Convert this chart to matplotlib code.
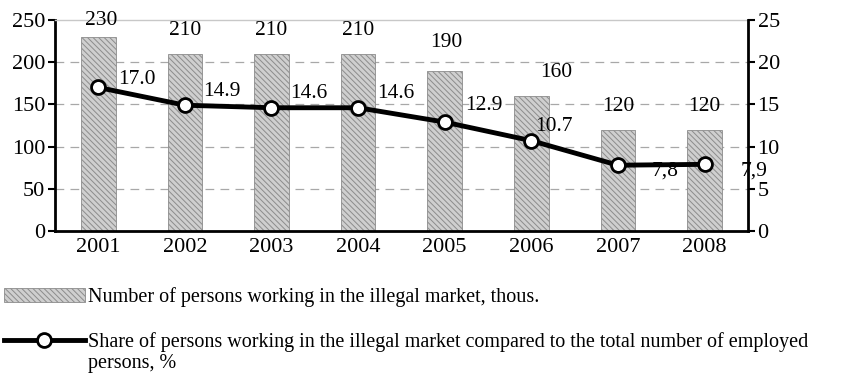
import matplotlib
matplotlib.use("Agg")
import matplotlib.pyplot as plt
from matplotlib.lines import Line2D
from matplotlib.patches import Patch
import numpy as np

years = ["2001", "2002", "2003", "2004", "2005", "2006", "2007", "2008"]
persons_thous = [230, 210, 210, 210, 190, 160, 120, 120]
share_pct = [17.0, 14.9, 14.6, 14.6, 12.9, 10.7, 7.8, 7.9]
share_labels = ["17.0", "14.9", "14.6", "14.6", "12.9", "10.7", "7,8", "7,9"]

plt.rcParams["font.family"] = ["Liberation Serif", "DejaVu Serif"]
plt.rcParams["hatch.color"] = "#5e5e5e"
plt.rcParams["hatch.linewidth"] = 0.7

BAR_FACE = "#cfcfcf"
BAR_EDGE = "#8c8c8c"
HATCH = "\\\\\\\\\\\\"

fig = plt.figure(figsize=(8.45, 3.82), dpi=100)
ax = fig.add_axes([0.065, 0.395, 0.82, 0.553])
ax2 = ax.twinx()

x = np.arange(len(years))
ax.bar(x, persons_thous, width=0.4, color=BAR_FACE, edgecolor=BAR_EDGE,
       linewidth=0.6, hatch=HATCH, zorder=2)
# value labels above bars, offsets in points (dx, dy above bar top)
bar_offsets = [(2, 12), (0, 17), (0, 17), (0, 17), (1, 20), (18, 17), (0, 17), (0, 17)]
for xi, v, (dx, dy) in zip(x, persons_thous, bar_offsets):
    ax.annotate(str(v), (xi, v), xytext=(dx, dy), textcoords="offset points",
                ha="center", va="center", fontsize=15.5, zorder=4,
                annotation_clip=False)

ax.set_xlim(-0.5, len(years) - 0.5)
ax.set_ylim(0, 250)
ax.set_yticks(range(0, 251, 50))
ax.set_xticks(x)
ax.set_xticklabels(years)
ax.tick_params(axis="x", length=0, pad=5, labelsize=16)
ax.tick_params(axis="y", direction="out", length=5, width=1.5, labelsize=16, pad=2)
for yv in range(50, 250, 50):
    ax.axhline(yv, color="#a8a8a8", lw=0.9, ls=(0, (7, 5)), zorder=1)
ax.spines["left"].set_linewidth(2)
ax.spines["bottom"].set_linewidth(2)
ax.spines["top"].set_color("#c8c8c8")
ax.spines["top"].set_linewidth(1)
ax.spines["right"].set_visible(False)

ax2.plot(x, share_pct, color="black", lw=3.5, marker="o", markersize=10,
         markerfacecolor="white", markeredgecolor="black", markeredgewidth=2, zorder=5)
# label offsets in points (dx, dy)
offsets = [(28, 6), (27, 10), (27, 10), (27, 10), (28, 12), (16, 10), (34, -4), (36, -5)]
for xi, v, lab, (dx, dy) in zip(x, share_pct, share_labels, offsets):
    ax2.annotate(lab, (xi, v), xytext=(dx, dy), textcoords="offset points",
                 ha="center", va="center", fontsize=15.5, zorder=6,
                 annotation_clip=False)
ax2.set_ylim(0, 25)
ax2.set_yticks(range(0, 26, 5))
ax2.tick_params(axis="y", direction="out", length=5, width=1.5, labelsize=16, pad=2)
ax2.spines["right"].set_linewidth(2)
ax2.spines["left"].set_visible(False)
ax2.spines["top"].set_visible(False)
ax2.spines["bottom"].set_visible(False)

handles = [
    Patch(facecolor=BAR_FACE, edgecolor=BAR_EDGE, hatch=HATCH, linewidth=0.6),
    Line2D([], [], color="black", lw=3.5, marker="o", markersize=10,
           markerfacecolor="white", markeredgecolor="black", markeredgewidth=2),
]
labels = [
    "Number of persons working in the illegal market, thous.",
    "Share of persons working in the illegal market compared to the total number of employed",
]
leg = fig.legend(handles, labels, loc="upper left", bbox_to_anchor=(0.0, 0.26),
                 frameon=False, fontsize=14.5, handlelength=4.0, handletextpad=0.15,
                 labelspacing=1.25, borderaxespad=0, borderpad=0.2)

# second line of the share label, aligned under the first
fig.canvas.draw()
bb = leg.get_texts()[1].get_window_extent().transformed(fig.transFigure.inverted())
fig.text(bb.x0, bb.y0 - 0.005, "persons, %", fontsize=14.5, ha="left", va="top")

fig.savefig("out.png", dpi=100)
